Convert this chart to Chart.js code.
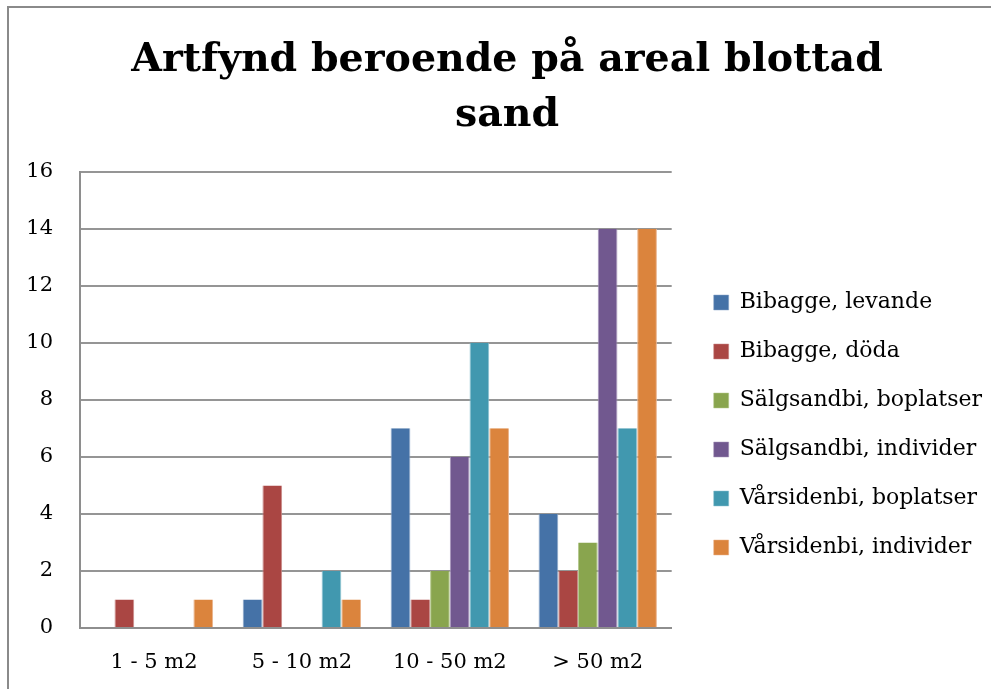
<!DOCTYPE html>
<html>
<head>
<meta charset="utf-8">
<script src="https://cdn.jsdelivr.net/npm/chart.js@4/dist/chart.umd.min.js"></script>
<style>
  html, body { margin: 0; padding: 0; background: #fff; overflow: hidden; }
  #frame { position: absolute; left: 7px; top: 6px; width: 1000px; height: 720px;
           border-left: 2px solid #8a8a8a; border-top: 2px solid #8a8a8a; background: #fff; }
  #wrap { position: absolute; left: 0; top: 0; width: 996px; height: 700px; }
</style>
</head>
<body>
<div id="frame"><div id="wrap"><canvas id="c"></canvas></div></div>
<script>
const titleLines = ['Artfynd beroende på areal blottad', 'sand'];
const categories = ['1 - 5 m2', '5 - 10 m2', '10 - 50 m2', '> 50 m2'];
const seriesNames = ['Bibagge, levande', 'Bibagge, döda', 'Sälgsandbi, boplatser',
                     'Sälgsandbi, individer', 'Vårsidenbi, boplatser', 'Vårsidenbi, individer'];
const bibaggeLevande = [0, 1, 7, 4];
const bibaggeDoda = [1, 5, 1, 2];
const salgBoplatser = [0, 0, 2, 3];
const salgIndivider = [0, 0, 6, 14];
const varBoplatser = [0, 2, 10, 7];
const varIndivider = [1, 1, 7, 14];
const yTicks = [0, 2, 4, 6, 8, 10, 12, 14, 16];

const seriesValues = [bibaggeLevande, bibaggeDoda, salgBoplatser, salgIndivider, varBoplatser, varIndivider];
const colors = ['#4572A7', '#AA4643', '#89A54E', '#71588F', '#4198AF', '#DB843D'];
const edges = ['#8aa6c8', '#c98a88', '#b5c98f', '#a694bb', '#8cc3d1', '#eab38b'];

const serif = "'DejaVu Serif', 'Liberation Serif', serif";

// place the legend block and title like the original Office chart
const blockOffsets = {
  id: 'blockOffsets',
  afterLayout(chart) {
    const lg = chart.legend;
    if (lg) { lg.left += 15; lg.right += 15; lg.top += 67; lg.bottom += 67; }
    const tb = chart.titleBlock;
    if (tb) { tb.left += 14; tb.right += 14; }
  }
};

function draw() {
  new Chart(document.getElementById('c'), {
    type: 'bar',
    data: {
      labels: categories,
      datasets: seriesNames.map((n, i) => ({
        label: n,
        data: seriesValues[i],
        backgroundColor: colors[i],
        borderColor: edges[i],
        borderWidth: { left: 1, right: 1, top: 0, bottom: 0 },
        borderSkipped: 'bottom',
        categoryPercentage: 0.8,
        barPercentage: 1.0
      }))
    },
    plugins: [blockOffsets],
    options: {
      responsive: true,
      maintainAspectRatio: false,
      animation: false,
      layout: { padding: { left: 0, right: 28, top: 0, bottom: 0 } },
      plugins: {
        title: {
          display: true,
          text: titleLines,
          color: '#000',
          font: { family: serif, size: 39.5, weight: 'bold', lineHeight: 1.4 },
          padding: { top: 25, bottom: 28 }
        },
        legend: {
          position: 'right',
          align: 'center',
          maxWidth: 420,
          labels: {
            color: '#000',
            font: { family: serif, size: 22 },
            boxWidth: 15,
            boxHeight: 15,
            padding: 27
          }
        },
        tooltip: { enabled: false }
      },
      scales: {
        x: {
          grid: { display: false, drawTicks: false },
          border: { display: true, color: '#8e8e8e', width: 2 },
          ticks: { color: '#000', font: { family: serif, size: 21 }, padding: 22, maxRotation: 0 },
          afterFit: (s) => { s.height = 80; }
        },
        y: {
          min: 0, max: 16,
          afterBuildTicks: (s) => { s.ticks = yTicks.map(v => ({ value: v })); },
          grid: { color: '#959595', lineWidth: 2, drawTicks: false },
          border: { display: true, color: '#8e8e8e', width: 2 },
          ticks: { color: '#000', font: { family: serif, size: 21 }, padding: 27 },
          afterFit: (s) => { s.width = 71; }
        }
      }
    }
  });
}

Promise.all([
  document.fonts.load("22px 'DejaVu Serif'"),
  document.fonts.load("bold 40px 'DejaVu Serif'")
]).then(draw, draw);
</script>
</body>
</html>
